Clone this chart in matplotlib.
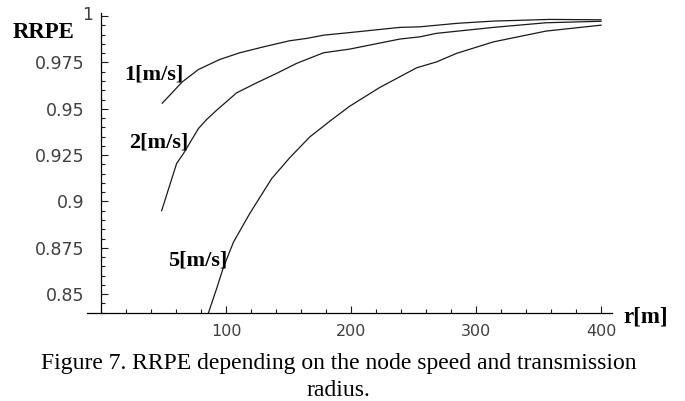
import matplotlib
matplotlib.use("Agg")
import matplotlib.pyplot as plt
from matplotlib.ticker import MultipleLocator, FixedLocator

# values
r_1 = [49, 65, 78, 95, 111, 130, 151, 165, 178, 199, 239, 255, 285, 314, 359, 400]
rrpe_1 = [0.953, 0.9645, 0.9712, 0.9766, 0.9802, 0.9834, 0.9867, 0.988, 0.9897,
          0.9911, 0.9939, 0.9942, 0.9961, 0.9973, 0.9982, 0.998]

r_2 = [48.5, 60.5, 66, 78, 84.5, 92.5, 108.5, 124.5, 140.5, 156.5, 178, 199,
       239, 255, 268.5, 314, 356, 400]
rrpe_2 = [0.895, 0.9205, 0.9259, 0.9394, 0.9442, 0.9492, 0.9586, 0.964, 0.9691,
          0.9745, 0.9802, 0.9822, 0.9876, 0.9888, 0.9907, 0.9939, 0.9964, 0.9972]

r_5 = [86, 92.5, 98, 106, 119, 136.5, 151, 167, 184, 199, 223, 252.5, 268.5,
       284.5, 314, 356, 400]
rrpe_5 = [0.840, 0.853, 0.8646, 0.8781, 0.8935, 0.9123, 0.9236, 0.9348, 0.9438,
          0.9514, 0.9615, 0.9721, 0.9753, 0.9799, 0.9861, 0.9919, 0.9951]

speed_labels = ["1[m/s]", "2[m/s]", "5[m/s]"]
label_pos = [(42, 0.9687), (46.5, 0.932), (77, 0.8683)]

x_major = [100, 200, 300, 400]
y_major = [0.85, 0.875, 0.9, 0.925, 0.95, 0.975, 1.0]
# the "1" is drawn separately, it sits closer to the axis in the original
y_labels = ["0.85", "0.875", "0.9", "0.925", "0.95", "0.975", ""]

caption = ["Figure 7. RRPE depending on the node speed and transmission", "radius."]

W, H = 685, 401
fig = plt.figure(figsize=(W / 100, H / 100), dpi=100)
ax = fig.add_axes([87.25 / W, 1 - 312.7 / H, 525 / W, (312.7 - 13.3) / H])

for r, v in [(r_1, rrpe_1), (r_2, rrpe_2), (r_5, rrpe_5)]:
    ax.plot(r, v, color="#1a1a1a", lw=0.9)

ax.set_xlim(-11, 409)
ax.set_ylim(0.84, 1.0015)

for s in ["top", "right"]:
    ax.spines[s].set_visible(False)
ax.spines["left"].set_position(("data", 0))
ax.spines["left"].set_linewidth(0.9)
ax.spines["bottom"].set_linewidth(0.9)

ax.xaxis.set_major_locator(FixedLocator(x_major))
ax.xaxis.set_minor_locator(MultipleLocator(20))
ax.yaxis.set_major_locator(FixedLocator(y_major))
ax.set_yticklabels(y_labels)
ax.yaxis.set_minor_locator(MultipleLocator(0.005))
ax.tick_params(which="both", direction="in", colors="#1a1a1a", labelcolor="#404040",
               width=0.8)
ax.tick_params(which="major", length=5)
ax.tick_params(which="minor", length=3)
ax.tick_params(axis="x", which="major", pad=8, labelsize=11.5)
ax.tick_params(axis="y", which="major", pad=12, labelsize=12.5)
for lbl in ax.get_xticklabels() + ax.get_yticklabels():
    lbl.set_family("DejaVu Sans")
ax.text(-6.5, 1.0005, "1", ha="right", va="center", family="DejaVu Sans",
        fontsize=12.5, color="#404040", clip_on=False)

for txt, (x, y) in zip(speed_labels, label_pos):
    ax.text(x, y, txt, ha="center", va="center", family="Liberation Serif",
            fontweight="bold", fontsize=16)

fig.text(44 / W, 1 - 32 / H, "RRPE", ha="center", va="center",
         family="Liberation Serif", fontweight="bold", fontsize=16.5)
fig.text(646 / W, 1 - 316.5 / H, "r[m]", ha="center", va="center",
         family="Liberation Serif", fontweight="bold", fontsize=16.5)

fig.text(339 / W, 1 - 369 / H, caption[0], ha="center", va="baseline",
         family="Liberation Serif", fontsize=17)
fig.text(338 / W, 1 - 396 / H, caption[1], ha="center", va="baseline",
         family="Liberation Serif", fontsize=17)

fig.savefig("out.png", dpi=100)
